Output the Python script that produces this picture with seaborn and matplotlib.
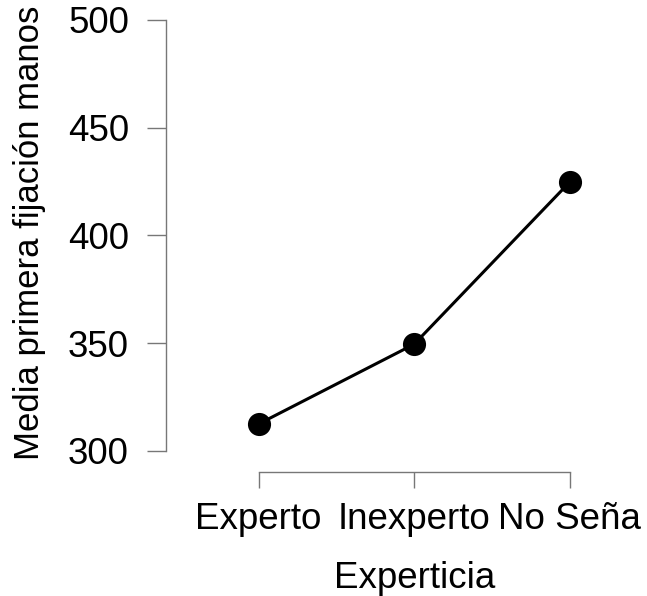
import matplotlib
matplotlib.use("Agg")
import matplotlib.pyplot as plt
import seaborn as sns
import pandas as pd

# Mean first fixation on hands by expertise group
categories = ["Experto", "Inexperto", "No Seña"]
means = [312.5, 349.5, 424.7]
y_ticks = [300, 350, 400, 450, 500]

df = pd.DataFrame({"Experticia": categories, "Media": means})

sns.set_theme(style="white")
plt.rcParams["font.family"] = ["Liberation Sans", "DejaVu Sans"]

W, H = 647, 596
fig = plt.figure(figsize=(W / 100, H / 100), dpi=100)
ax = fig.add_axes([166 / W, (H - 472) / H, (610 - 166) / W, (472 - 18) / H])

sns.pointplot(data=df, x="Experticia", y="Media", color="black",
              errorbar=None, markers="o", linestyles="-",
              markersize=15, linewidth=2.2, ax=ax)

ax.set_xlim(-0.596, 2.26)
ax.set_ylim(290.2, 500.9)
ax.set_yticks(y_ticks)
ax.set_yticklabels([str(t) for t in y_ticks])

for side in ("top", "right"):
    ax.spines[side].set_visible(False)
ax.spines["left"].set_bounds(300, 500)
ax.spines["bottom"].set_bounds(0, 2)
for side in ("left", "bottom"):
    ax.spines[side].set_color("#777777")
    ax.spines[side].set_linewidth(1.0)

fs = 26.5
ax.tick_params(axis="y", length=13.7, width=1.0, color="#777777",
               labelsize=fs, pad=13, left=True, labelcolor="black")
ax.tick_params(axis="x", length=11.5, width=1.0, color="#777777",
               labelsize=fs, pad=10, bottom=True, labelcolor="black")

ax.set_xlabel("Experticia", fontsize=fs, color="black")
ax.set_ylabel("Media primera fijación manos", fontsize=25, color="black")
ax.xaxis.set_label_coords(415 / W, (H - 578) / H, transform=fig.transFigure)
ax.xaxis.label.set_va("center")
ax.yaxis.set_label_coords(30 / W, (H - 233) / H, transform=fig.transFigure)
ax.yaxis.label.set_va("center")

fig.savefig("out.png", dpi=100, facecolor="white")
